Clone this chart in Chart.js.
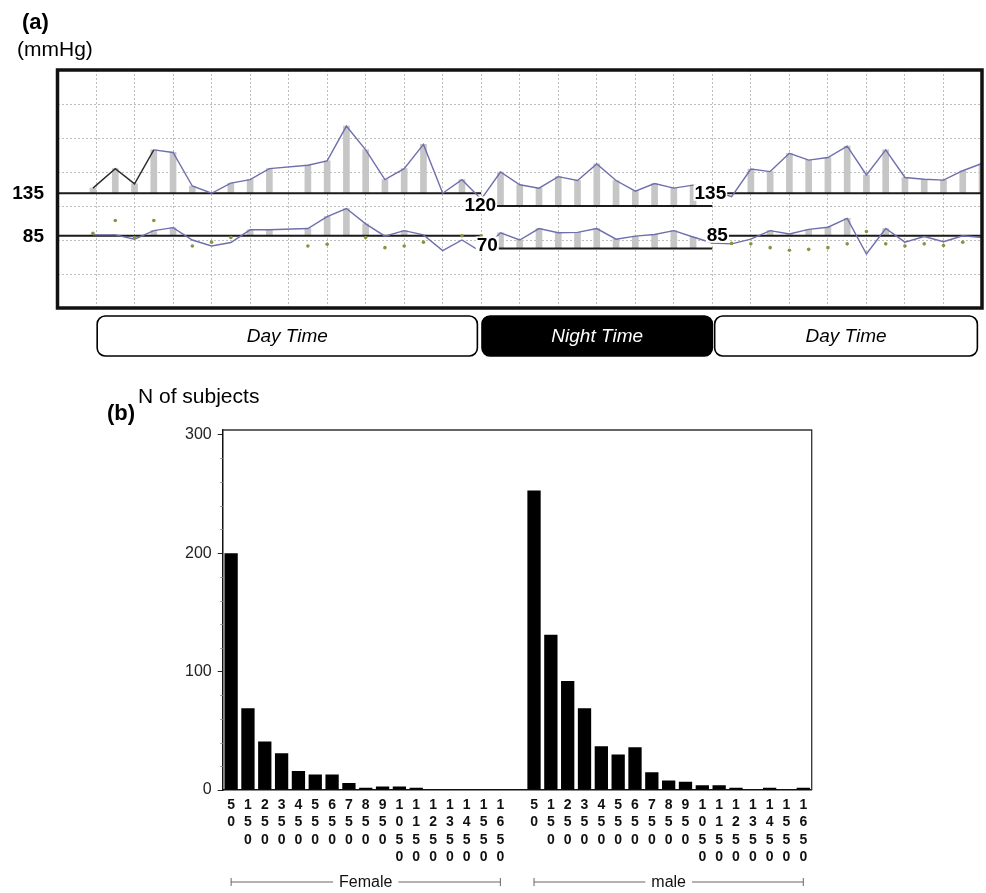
<!DOCTYPE html>
<html>
<head>
<meta charset="utf-8">
<script src="https://cdn.jsdelivr.net/npm/chart.js@4.4.1/dist/chart.umd.min.js"></script>
<style>
    html, body { margin: 0; padding: 0; background: #fff; }
    #wrap { position: relative; width: 986px; height: 893px; }
    #bp-box { position: absolute; left: 0; top: 0; width: 986px; height: 370px; }
    #hist-box { position: absolute; left: 0; top: 370px; width: 986px; height: 523px; }
</style>
</head>
<body>
<div id="wrap">
    <div id="bp-box"><canvas id="bp-chart"></canvas></div>
    <div id="hist-box"><canvas id="hist-chart"></canvas></div>
</div>
<script>
// (a) ambulatory recording, hour of day on x
const hours = [0.92, 1.5, 2, 2.5, 3, 3.5, 4, 4.5, 5, 5.5, 6.5, 7, 7.5, 8, 8.5, 9, 9.5, 10, 10.5, 11,
    11.5, 12, 12.5, 13, 13.5, 14, 14.5, 15, 15.5, 16, 16.5, 17, 17.5, 18, 18.5, 19, 19.5, 20, 20.5, 21,
    21.5, 22, 22.5, 23, 23.5, 24];
const systolic = [141, 164, 146, 186, 183, 143.5, 135, 147, 151, 164, 168, 173, 214, 186, 151, 164, 192.5, 135, 151, 128,
    160, 145, 141, 154.5, 150, 169.5, 150, 137.5, 146.5, 141, 144.5, 138, 131, 163.5, 160.5, 182, 174, 177, 190.5, 156.5,
    186, 153.5, 151.5, 150.5, 161.5, 170];
const diastolic = [86, 86, 81, 91, 94.5, 80, 73, 77, 92, 92, 93.5, 107.5, 117, 99, 84.5, 91, 86, 67.5, 80, 66,
    88.5, 80, 93.5, 88.5, 89, 93.5, 81, 84.5, 86.5, 91, 83.5, 76.5, 75.5, 81, 91, 87, 92.5, 95, 105.5, 63.5,
    93.5, 77.5, 84, 78, 85, 83];
const pulse = [88, 103, 83, 103, null, 73, 77.5, 83, null, null, 73, 75, null, 83, 71, 73, 77.5, null, 85, 85,
    null, null, null, null, null, null, null, null, null, null, null, 77, 76, 75.5, 71, 68, 69, 71, 75.5, 90,
    75.5, 73, 75.5, 73.5, 77.5, null];

const periodStart = [0, 11, 17];
const periodEnd = [11, 17, 24];
const periodNames = ['Day Time', 'Night Time', 'Day Time'];
const sysLimit = [135, 120, 135];
const diaLimit = [85, 70, 85];

// (b) subjects per amount class
const amountBins = ['50', '150', '250', '350', '450', '550', '650', '750', '850', '950',
    '1050', '1150', '1250', '1350', '1450', '1550', '1650'];
const femaleCounts = [200, 69, 41, 31, 16, 13, 13, 6, 2, 3, 3, 2, 0, 0, 0, 0, 0];
const maleCounts = [253, 131, 92, 69, 37, 30, 36, 15, 8, 7, 4, 4, 2, 0, 2, 0, 2];
const groupNames = ['Female', 'male'];
const countTicks = [0, 100, 200, 300];

const lineBlue = '#6f6fae';
const barGrey = '#c6c6c6';

function periodOf(h) {
    for (let i = 0; i < periodStart.length; i++) {
        if (h >= periodStart[i] && h < periodEnd[i]) return i;
    }
    return periodStart.length - 1;
}

function excessBars(values, limits) {
    const out = [];
    hours.forEach((h, i) => {
        const lim = limits[periodOf(h)];
        if (values[i] != null && values[i] > lim) out.push({ x: h, y: [lim, values[i]] });
    });
    return out;
}

function limitLine(limits) {
    const out = [];
    periodStart.forEach((s, i) => {
        out.push({ x: s, y: limits[i] }, { x: periodEnd[i], y: limits[i] }, { x: periodEnd[i], y: null });
    });
    return out;
}

const series = values => hours.map((h, i) => ({ x: h, y: values[i] }));

const bpDecor = {
    id: 'bpDecor',
    afterDraw(chart) {
        const { ctx, chartArea: a, scales: { x, y } } = chart;
        ctx.save();

        // frame
        ctx.strokeStyle = '#111';
        ctx.lineWidth = 3.5;
        ctx.strokeRect(a.left, a.top, a.right - a.left, a.bottom - a.top);

        // limit values written on the reference lines
        ctx.font = 'bold 19px "Liberation Sans", Arial, sans-serif';
        ctx.textBaseline = 'middle';
        const marks = [
            { text: sysLimit[0], px: 44, v: sysLimit[0], align: 'right', box: false },
            { text: diaLimit[0], px: 44, v: diaLimit[0], align: 'right', box: false },
            { text: sysLimit[1], px: x.getPixelForValue(periodStart[1]) - 1, v: sysLimit[1], dy: -1.5 },
            { text: diaLimit[1], px: x.getPixelForValue(periodStart[1]) + 6, v: diaLimit[1], dy: -4 },
            { text: sysLimit[2], px: x.getPixelForValue(periodStart[2]) - 2, v: sysLimit[2], dy: -0.5 },
            { text: diaLimit[2], px: x.getPixelForValue(periodStart[2]) + 5, v: diaLimit[2], dy: -1 }
        ];
        marks.forEach(m => {
            const t = String(m.text);
            const w = ctx.measureText(t).width;
            const py = y.getPixelForValue(m.v) + (m.dy || 0);
            const align = m.align || 'center';
            const left = align === 'right' ? m.px - w : m.px - w / 2;
            if (m.box !== false) {
                ctx.fillStyle = '#fff';
                ctx.fillRect(left - 1, py - 8, w + 2, 16);
            }
            ctx.fillStyle = '#000';
            ctx.textAlign = 'left';
            ctx.fillText(t, left, py + 1);
        });

        // day / night strip
        const edges = [[1.03, 10.9], [11.02, 17.0], [17.06, 23.88]];
        const top = 316, h = 40;
        ctx.lineWidth = 1.6;
        ctx.font = 'italic 19px "Liberation Sans", Arial, sans-serif';
        ctx.textAlign = 'center';
        edges.forEach((e, i) => {
            const l = x.getPixelForValue(e[0]);
            const r = x.getPixelForValue(e[1]);
            const night = periodNames[i] === 'Night Time';
            ctx.beginPath();
            ctx.roundRect(l, top, r - l, h, 8);
            ctx.fillStyle = night ? '#000' : '#fff';
            ctx.fill();
            ctx.strokeStyle = '#000';
            ctx.stroke();
            ctx.fillStyle = night ? '#fff' : '#000';
            ctx.fillText(periodNames[i], (l + r) / 2, top + h / 2 + 1);
        });

        // panel caption
        ctx.textAlign = 'left';
        ctx.textBaseline = 'alphabetic';
        ctx.fillStyle = '#000';
        ctx.font = 'bold 22px "Liberation Sans", Arial, sans-serif';
        ctx.fillText('(a)', 22, 29);
        ctx.font = '21px "Liberation Sans", Arial, sans-serif';
        ctx.fillText('(mmHg)', 17, 56);
        ctx.restore();
    }
};

new Chart(document.getElementById('bp-chart'), {
    type: 'bar',
    data: {
        datasets: [
            {
                type: 'line', label: 'Pulse', data: series(pulse), showLine: false,
                pointRadius: 1.8, pointBackgroundColor: '#8a9440', pointBorderWidth: 0, order: 1
            },
            {
                type: 'line', label: 'Systolic', data: series(systolic), borderColor: lineBlue,
                borderWidth: 1.4, pointRadius: 0, tension: 0, order: 2,
                segment: { borderColor: c => c.p0DataIndex < 3 ? '#2b2b2b' : lineBlue }
            },
            {
                type: 'line', label: 'Diastolic', data: series(diastolic), borderColor: lineBlue,
                borderWidth: 1.4, pointRadius: 0, tension: 0, order: 2
            },
            {
                type: 'line', label: 'Systolic limit', data: limitLine(sysLimit), borderColor: '#1a1a1a',
                borderWidth: 1.8, pointRadius: 0, spanGaps: false, order: 3
            },
            {
                type: 'line', label: 'Diastolic limit', data: limitLine(diaLimit), borderColor: '#1a1a1a',
                borderWidth: 1.8, pointRadius: 0, spanGaps: false, order: 3
            },
            {
                type: 'bar', label: 'Systolic excess', data: excessBars(systolic, sysLimit),
                backgroundColor: barGrey, barThickness: 6, grouped: false, order: 4
            },
            {
                type: 'bar', label: 'Diastolic excess', data: excessBars(diastolic, diaLimit),
                backgroundColor: barGrey, barThickness: 6, grouped: false, order: 4
            }
        ]
    },
    options: {
        responsive: true,
        maintainAspectRatio: false,
        animation: false,
        layout: { padding: { left: 57.5, top: 70, right: 3.5, bottom: 62 } },
        plugins: { legend: { display: false }, tooltip: { enabled: false } },
        scales: {
            x: {
                type: 'linear', min: 0, max: 24, offset: false,
                ticks: { display: false, stepSize: 1 },
                grid: { color: '#bdbdbd', drawTicks: false, offset: false },
                border: { display: false, dash: [2, 2] },
                afterFit: s => { s.height = 0; }
            },
            y: {
                min: 0, max: 280,
                ticks: { display: false, stepSize: 40 },
                grid: { color: '#bdbdbd', drawTicks: false },
                border: { display: false, dash: [2, 2] },
                afterFit: s => { s.width = 0; }
            }
        }
    },
    plugins: [bpDecor]
});

const histDecor = {
    id: 'histDecor',
    afterDraw(chart) {
        const { ctx, chartArea: a, scales: { x, y } } = chart;
        ctx.save();

        // open frame: top and right
        ctx.strokeStyle = '#333';
        ctx.lineWidth = 1.3;
        ctx.beginPath();
        ctx.moveTo(a.left, a.top);
        ctx.lineTo(a.right, a.top);
        ctx.lineTo(a.right, a.bottom);
        ctx.stroke();

        // minor ticks every 20
        ctx.strokeStyle = '#999';
        ctx.lineWidth = 1;
        for (let v = 20; v < y.max; v += 20) {
            if (v % 100 === 0) continue;
            const py = Math.round(y.getPixelForValue(v)) + 0.5;
            ctx.beginPath();
            ctx.moveTo(a.left - 2.5, py);
            ctx.lineTo(a.left, py);
            ctx.stroke();
        }

        // group brackets under the tick labels
        const by = 512;
        ctx.font = '16px "Liberation Sans", Arial, sans-serif';
        ctx.textAlign = 'center';
        ctx.textBaseline = 'middle';
        groupNames.forEach((name, g) => {
            const first = g * (amountBins.length + 1);
            const l = x.getPixelForValue(first);
            const r = x.getPixelForValue(first + amountBins.length - 1);
            const mid = (l + r) / 2;
            const half = ctx.measureText(name).width / 2 + 6;
            ctx.strokeStyle = '#666';
            ctx.beginPath();
            ctx.moveTo(l, by); ctx.lineTo(mid - half, by);
            ctx.moveTo(mid + half, by); ctx.lineTo(r, by);
            ctx.moveTo(l, by - 4); ctx.lineTo(l, by + 4);
            ctx.moveTo(r, by - 4); ctx.lineTo(r, by + 4);
            ctx.stroke();
            ctx.fillStyle = '#111';
            ctx.fillText(name, mid, by + 1);
        });

        // caption above the frame
        ctx.textAlign = 'left';
        ctx.textBaseline = 'alphabetic';
        ctx.fillStyle = '#000';
        ctx.font = 'bold 22px "Liberation Sans", Arial, sans-serif';
        ctx.fillText('(b)', 107, 50);
        ctx.font = '21px "Liberation Sans", Arial, sans-serif';
        ctx.fillText('N of subjects', 138, 33);
        ctx.restore();
    }
};

new Chart(document.getElementById('hist-chart'), {
    type: 'bar',
    data: {
        labels: [...amountBins, '', ...amountBins],
        datasets: [{
            label: 'N of subjects',
            data: [...femaleCounts, null, ...maleCounts],
            backgroundColor: '#000',
            borderWidth: 0,
            barPercentage: 0.79,
            categoryPercentage: 1
        }]
    },
    options: {
        responsive: true,
        maintainAspectRatio: false,
        animation: false,
        layout: { padding: { left: 162.7, top: 60, right: 174.3, bottom: 23 } },
        plugins: { legend: { display: false }, tooltip: { enabled: false } },
        scales: {
            x: {
                offset: true,
                grid: { display: false, drawTicks: false },
                border: { color: '#111', width: 1.5 },
                ticks: {
                    autoSkip: false, maxRotation: 0, minRotation: 0, padding: 6, color: '#111',
                    font: { family: '"Liberation Sans", Arial, sans-serif', size: 14, weight: 'bold', lineHeight: 1.257 },
                    callback: function (value) {
                        const lab = this.getLabelForValue(value);
                        return lab ? lab.split('') : '';
                    }
                },
                afterFit: s => { s.height = 80; }
            },
            y: {
                min: 0, max: 304,
                afterBuildTicks: s => { s.ticks = countTicks.map(v => ({ value: v })); },
                ticks: {
                    padding: 6, color: '#222',
                    font: { family: '"Liberation Sans", Arial, sans-serif', size: 16 }
                },
                grid: { drawOnChartArea: false, drawTicks: true, tickLength: 5, color: '#222' },
                border: { color: '#111', width: 1.5 },
                afterFit: s => { s.width = 60; }
            }
        }
    },
    plugins: [histDecor]
});
</script>
</body>
</html>
